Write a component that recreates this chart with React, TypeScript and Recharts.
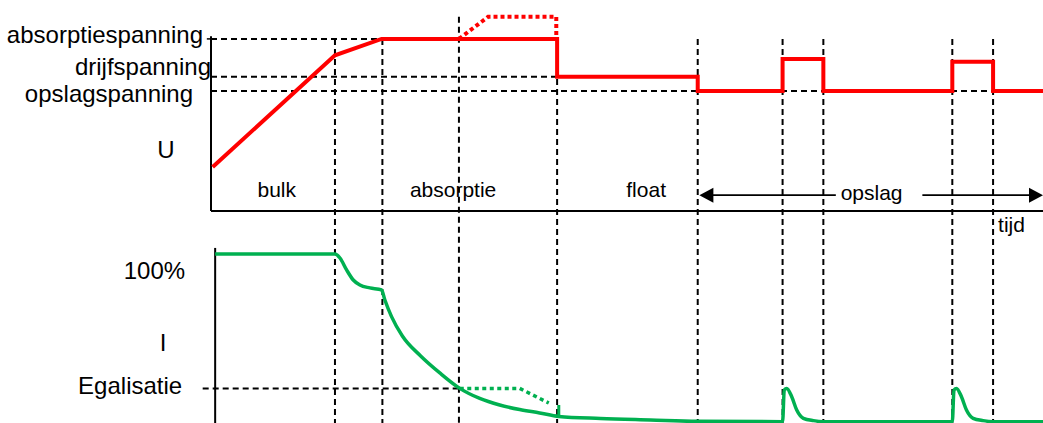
// Laadfasen van een acculader: spanning U (boven) en stroom I (onder) tegen de tijd
import { ComposedChart, Line, ReferenceDot, ReferenceLine, XAxis, YAxis } from 'recharts'

// spanning (rood), tijd in willekeurige eenheden 0..100
const spanningT = [0.2, 14.9, 20.5, 41.6, 41.6, 58.5, 58.5, 68.7, 68.7, 73.6, 73.6, 89.1, 89.1, 94.0, 94.0, 100]
const spanningU = [11.5, 14.03, 14.4, 14.4, 13.54, 13.54, 13.22, 13.22, 13.945, 13.945, 13.22, 13.22, 13.885, 13.885, 13.22, 13.22]

// egalisatie-spanning (rood gestippeld)
const egalSpanningT = [29.8, 33.3, 41.5, 41.5]
const egalSpanningU = [14.4, 14.9, 14.9, 14.45]

// laadstroom in % (groen)
const stroomT = [
  0.5, 14.9, 15.5, 16.3, 17.1, 17.9, 19.1, 20.5, 20.9, 21.7, 23.0, 25.2, 27.5, 29.9, 32.3, 34.7, 37.1, 39.5,
  41.8, 46.8, 52.8, 58.5, 68.7, 68.9, 69.2, 69.8, 70.4, 71.2, 72.4, 73.6, 89.1, 89.3, 89.6, 90.2, 90.8, 91.6,
  92.8, 94.0, 100,
]
const stroomI = [
  100, 100, 97.6, 90.5, 84.5, 81.5, 79.8, 78.6, 72.6, 62.7, 51.2, 39.3, 29.2, 20, 14, 10.1, 7.4, 5.4,
  3.3, 2.1, 1.2, 0.4, 0.2, 19, 20, 15, 7.1, 2.2, 0.8, 0.2, 0.2, 19, 20, 15, 7.1, 2.2,
  0.8, 0.2, 0.2,
]

// egalisatie-stroom (groen gestippeld) en de sprong aan het eind
const egalStroomT = [29.9, 37.1, 40.6]
const egalStroomI = [20, 20, 11.3]
const sprongT = [41.8, 41.8]
const sprongI = [10.1, 2.4]

// spanningsniveaus
const niveauNamen = ['absorptiespanning', 'drijfspanning', 'opslagspanning']
const niveauU = [14.4, 13.54, 13.22]
const niveauEindT = [41.6, 58.5, 95]

// fasegrenzen (verticale stippellijnen)
const grensT = [14.9, 20.6, 29.8, 41.6, 58.5, 68.7, 73.6, 89.1, 94.0]
const grensTopU = [14.4, 14.4, 14.9, 14.4, 14.4, 14.4, 14.4, 14.4, 14.4]

// fasen
const faseNamen = ['bulk', 'absorptie', 'float', 'opslag']
const faseMiddenT = [7.9, 29.1, 52.3, 79.4]
const faseU = 10.86

const egalisatieI = 20
const tijdAsU = 10.5

const zip = (ts: number[], vs: number[]) => ts.map((t, i) => ({ t, v: vs[i] }))

const FONT = '"Liberation Sans", Arial, Helvetica, sans-serif'
const RED = '#ff0000'
const GREEN = '#00b050'
const DASH = '6 4'
const DASH_W = 2

const tekst =
  (label: string, dx: number, dy: number, size = 24, anchor: 'start' | 'middle' | 'end' = 'end') =>
  (p: any) => (
    <text x={p.cx + dx} y={p.cy + dy} fontSize={size} textAnchor={anchor} fontFamily={FONT} fill="#000">
      {label}
    </text>
  )

const pijlpunt = (richting: 1 | -1) => (p: any) => (
  <polygon
    points={`${p.cx},${p.cy} ${p.cx + richting * 14},${p.cy - 7.5} ${p.cx + richting * 14},${p.cy + 7.5}`}
    fill="#000"
  />
)

// plaatsing van de linker labels
const niveauLabelDx = [-8, 0, -18]
const niveauLabelDy = [4, -2, 11]
const faseLabelDy = [2, 2, 2, 5]

export default function App() {
  return (
    <div style={{ position: 'absolute', left: 0, top: 0, background: '#fff' }}>
      <ComposedChart width={1043} height={423} margin={{ top: 8, right: 0, bottom: 0, left: 211 }}>
        <XAxis type="number" dataKey="t" domain={[0, 100]} hide />
        <YAxis yAxisId="U" type="number" domain={[5.7, 15.1]} hide />
        <YAxis yAxisId="I" type="number" domain={[-0.6, 246.4]} hide />

        {/* horizontale niveaus */}
        {niveauU.map((u, i) => (
          <ReferenceLine
            key={niveauNamen[i]}
            yAxisId="U"
            ifOverflow="visible"
            segment={[
              { x: 0, y: u },
              { x: niveauEindT[i], y: u },
            ]}
            stroke="#000"
            strokeWidth={DASH_W}
            strokeDasharray={DASH}
          />
        ))}
        <ReferenceLine
          yAxisId="I"
          ifOverflow="visible"
          segment={[
            { x: -1, y: egalisatieI },
            { x: 29.9, y: egalisatieI },
          ]}
          stroke="#000"
          strokeWidth={DASH_W}
          strokeDasharray={DASH}
        />

        {/* fasegrenzen */}
        {grensT.map((t, i) => (
          <ReferenceLine
            key={t}
            yAxisId="U"
            ifOverflow="visible"
            segment={[
              { x: t, y: grensTopU[i] },
              { x: t, y: 5.7 },
            ]}
            stroke="#000"
            strokeWidth={DASH_W}
            strokeDasharray={DASH}
          />
        ))}

        {/* assen */}
        <ReferenceLine
          yAxisId="U"
          ifOverflow="visible"
          segment={[
            { x: 0, y: 14.46 },
            { x: 0, y: tijdAsU },
          ]}
          stroke="#000"
          strokeWidth={2}
        />
        <ReferenceLine
          yAxisId="U"
          ifOverflow="visible"
          segment={[
            { x: -0.5, y: 14.4 },
            { x: 0, y: 14.4 },
          ]}
          stroke="#000"
          strokeWidth={1.5}
        />
        <ReferenceLine
          yAxisId="U"
          ifOverflow="visible"
          segment={[
            { x: 0, y: tijdAsU },
            { x: 100, y: tijdAsU },
          ]}
          stroke="#000"
          strokeWidth={2}
        />
        <ReferenceLine
          yAxisId="I"
          ifOverflow="visible"
          segment={[
            { x: 0.5, y: 103.6 },
            { x: 0.5, y: -0.6 },
          ]}
          stroke="#000"
          strokeWidth={2}
        />

        {/* opslag-pijl */}
        <ReferenceLine
          yAxisId="U"
          ifOverflow="visible"
          segment={[
            { x: 59.8, y: faseU },
            { x: 75.1, y: faseU },
          ]}
          stroke="#000"
          strokeWidth={1.8}
        />
        <ReferenceLine
          yAxisId="U"
          ifOverflow="visible"
          segment={[
            { x: 85.5, y: faseU },
            { x: 98.8, y: faseU },
          ]}
          stroke="#000"
          strokeWidth={1.8}
        />
        <ReferenceDot yAxisId="U" x={58.7} y={faseU} ifOverflow="visible" shape={pijlpunt(1)} />
        <ReferenceDot yAxisId="U" x={100} y={faseU} ifOverflow="visible" shape={pijlpunt(-1)} />

        {/* series */}
        <Line
          yAxisId="U"
          data={zip(egalSpanningT, egalSpanningU)}
          dataKey="v"
          type="linear"
          stroke={RED}
          strokeWidth={4}
          strokeDasharray="4 3"
          dot={false}
          activeDot={false}
          isAnimationActive={false}
        />
        <Line
          yAxisId="U"
          data={zip(spanningT, spanningU)}
          dataKey="v"
          type="linear"
          stroke={RED}
          strokeWidth={4}
          dot={false}
          activeDot={false}
          isAnimationActive={false}
        />
        <Line
          yAxisId="I"
          data={zip(egalStroomT, egalStroomI)}
          dataKey="v"
          type="linear"
          stroke={GREEN}
          strokeWidth={3.5}
          strokeDasharray="4 3.5"
          dot={false}
          activeDot={false}
          isAnimationActive={false}
        />
        <Line
          yAxisId="I"
          data={zip(sprongT, sprongI)}
          dataKey="v"
          type="linear"
          stroke={GREEN}
          strokeWidth={3}
          dot={false}
          activeDot={false}
          isAnimationActive={false}
        />
        <Line
          yAxisId="I"
          data={zip(stroomT, stroomI)}
          dataKey="v"
          type="monotone"
          stroke={GREEN}
          strokeWidth={3.5}
          dot={false}
          activeDot={false}
          isAnimationActive={false}
        />

        {/* teksten */}
        {niveauNamen.map((naam, i) => (
          <ReferenceDot
            key={naam}
            yAxisId="U"
            x={0}
            y={niveauU[i]}
            ifOverflow="visible"
            shape={tekst(naam, niveauLabelDx[i], niveauLabelDy[i])}
          />
        ))}
        <ReferenceDot yAxisId="U" x={0} y={11.7} ifOverflow="visible" shape={tekst('U', -45, 0, 24, 'middle')} />
        <ReferenceDot yAxisId="I" x={0.5} y={100} ifOverflow="visible" shape={tekst('100%', -30, 25)} />
        <ReferenceDot yAxisId="I" x={0.5} y={42.3} ifOverflow="visible" shape={tekst('I', -52, 0, 24, 'middle')} />
        <ReferenceDot
          yAxisId="I"
          x={0.5}
          y={egalisatieI}
          ifOverflow="visible"
          shape={tekst('Egalisatie', -33, 6)}
        />
        {faseNamen.map((naam, i) => (
          <ReferenceDot
            key={naam}
            yAxisId="U"
            x={faseMiddenT[i]}
            y={faseU}
            ifOverflow="visible"
            shape={tekst(naam, 0, faseLabelDy[i], 21, 'middle')}
          />
        ))}
        <ReferenceDot yAxisId="U" x={94.0} y={tijdAsU} ifOverflow="visible" shape={tekst('tijd', 5, 21, 21, 'start')} />
      </ComposedChart>
    </div>
  )
}
